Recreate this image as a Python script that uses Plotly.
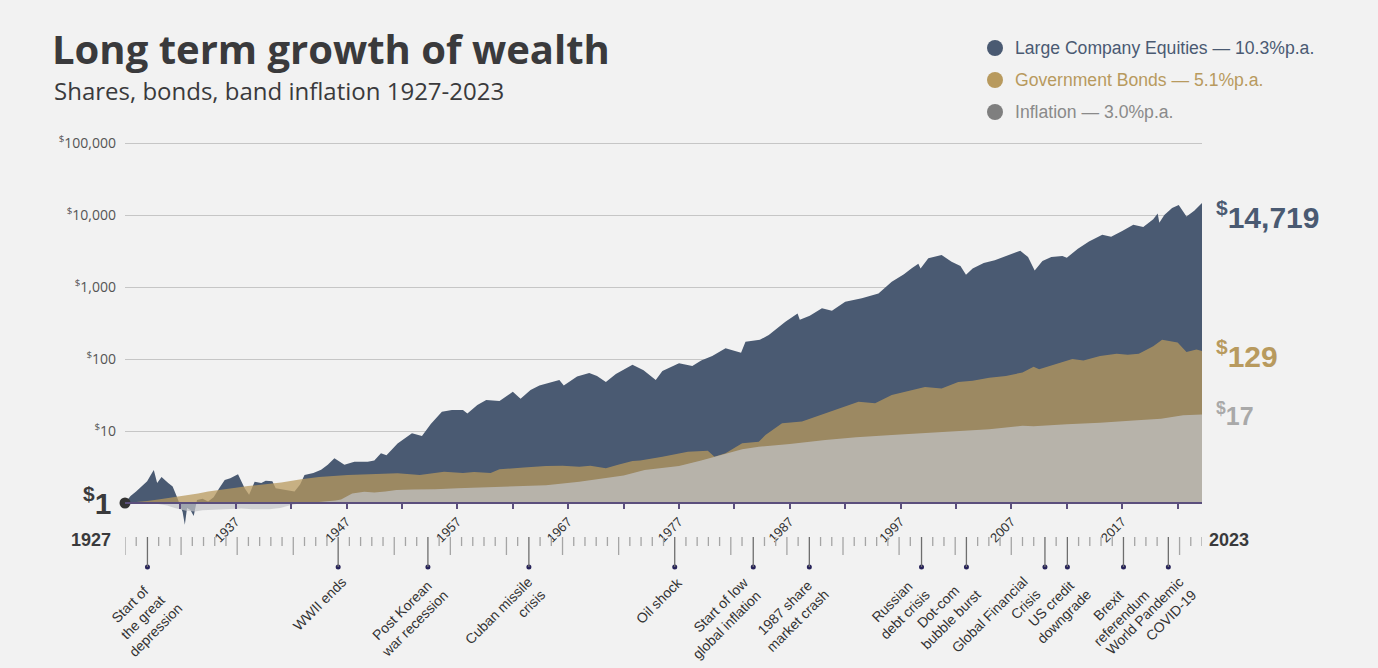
import math
import plotly.graph_objects as go

# ---------------- data ----------------
TITLE = "Long term growth of wealth"
SUBTITLE = "Shares, bonds, band inflation 1927-2023"

EQ_YEARS = [1927.0, 1927.5, 1928.0, 1928.5, 1929.0, 1929.3, 1929.6, 1929.9, 1930.3, 1930.9,
            1931.3, 1931.7, 1932.0, 1932.2, 1932.4, 1932.6, 1932.9, 1933.2, 1933.5, 1934.0,
            1934.5, 1935.0, 1935.5, 1936.0, 1936.5, 1937.2, 1937.8, 1938.2, 1938.7, 1939.3,
            1939.7, 1940.3, 1940.6, 1941.5, 1942.3, 1942.8, 1943.2, 1944.0, 1944.7, 1945.3,
            1945.9, 1946.8, 1947.7, 1948.9, 1949.5, 1950.1, 1950.6, 1951.6, 1952.9, 1953.8,
            1954.6, 1955.6, 1956.5, 1957.5, 1957.9, 1958.8, 1959.6, 1960.8, 1962.0, 1962.7,
            1963.6, 1964.4, 1965.5, 1966.2, 1966.6, 1967.8, 1968.9, 1969.6, 1970.4, 1971.3,
            1972.8, 1973.8, 1974.9, 1975.5, 1977.0, 1978.2, 1979.0, 1980.0, 1981.2, 1982.6,
            1983.0, 1984.3, 1985.1, 1986.6, 1987.7, 1987.9, 1988.8, 1989.9, 1990.8, 1992.0,
            1993.5, 1995.0, 1996.2, 1997.3, 1998.0, 1998.6, 1998.8, 1999.5, 2000.7, 2001.6,
            2002.4, 2002.9, 2003.5, 2004.5, 2005.5, 2006.5, 2007.8, 2008.5, 2009.1, 2009.8,
            2010.6, 2011.6, 2012.0, 2013.0, 2014.0, 2015.2, 2016.0, 2017.0, 2018.0, 2018.9,
            2019.8, 2020.2, 2020.35, 2020.8, 2021.5, 2022.1, 2022.8, 2023.5, 2024.2]
EQ_VALUES = [1.0, 1.25, 1.45, 1.7, 2.0, 2.4, 2.87, 1.9, 2.3, 1.9,
             1.7, 1.2, 0.9, 0.75, 0.5, 0.85, 0.8, 0.66, 1.1, 1.15,
             1.05, 1.2, 1.6, 2.09, 2.2, 2.5, 1.6, 1.3, 1.98, 1.9,
             2.04, 2.0, 1.6, 1.5, 1.45, 1.8, 2.45, 2.6, 2.9, 3.4,
             4.2, 3.4, 3.75, 3.75, 3.9, 4.9, 4.6, 6.7, 9.3, 8.5,
             12.5, 18.5, 19.5, 19.6, 17.5, 23, 27, 26, 35, 28,
             37, 43, 48, 51, 43, 57, 64, 58, 48, 62,
             83, 70, 51, 68, 87, 80, 95, 110, 141, 122,
             174, 185, 215, 330, 430, 350, 400, 505, 468, 625,
             700, 815, 1180, 1500, 1820, 2100, 1800, 2500, 2780, 2240,
             1950, 1480, 1800, 2150, 2350, 2700, 3200, 2600, 1700, 2300,
             2600, 2700, 2550, 3400, 4300, 5300, 5000, 6000, 7300, 6800,
             8700, 10500, 7800, 10000, 12500, 13800, 9500, 11500, 14719]

BOND_YEARS = [1927.0, 1928.0, 1929.0, 1930.0, 1931.0, 1931.7, 1932.5, 1933.6, 1934.5, 1935.7,
              1937.0, 1938.1, 1939.5, 1941.1, 1942.9, 1944.5, 1947.1, 1949.9, 1951.6, 1953.6,
              1955.8, 1957.5, 1958.5, 1960.0, 1960.8, 1963.0, 1965.0, 1966.5, 1968.0, 1969.0,
              1970.4, 1971.5, 1972.8, 1973.5, 1974.5, 1975.5, 1977.8, 1979.6, 1980.2, 1981.2,
              1982.7, 1984.2, 1984.8, 1986.3, 1988.1, 1990.2, 1993.2, 1994.7, 1996.2, 1999.2,
              2000.7, 2002.2, 2003.5, 2005.0, 2006.5, 2008.0, 2009.0, 2009.5, 2011.0, 2012.5,
              2013.5, 2015.0, 2016.5, 2017.5, 2018.5, 2019.8, 2020.6, 2021.5, 2022.0, 2022.8,
              2023.7, 2024.2]
BOND_VALUES = [1.0, 1.03, 1.07, 1.12, 1.18, 1.22, 1.28, 1.36, 1.45, 1.55,
               1.63, 1.72, 1.82, 1.92, 2.13, 2.3, 2.45, 2.53, 2.58, 2.45,
               2.72, 2.6, 2.7, 2.6, 2.94, 3.1, 3.26, 3.3, 3.2, 3.3,
               3.03, 3.4, 3.83, 3.9, 4.1, 4.4, 5.16, 5.3, 4.4, 4.9,
               6.75, 7.1, 8.8, 12.8, 13.5, 17.6, 25.5, 24.3, 31.6, 41,
               39, 48, 50, 55, 58, 65, 78, 72, 85, 100,
               95, 110, 118, 115, 118, 150, 185, 175, 170, 125,
               135, 129]

INFL_YEARS = [1927.0, 1928.0, 1929.0, 1930.0, 1930.8, 1931.5, 1932.5, 1933.3, 1934.0, 1935.0,
              1936.0, 1937.5, 1938.5, 1940.0, 1941.0, 1942.0, 1942.9, 1944.0, 1945.0, 1946.0,
              1946.5, 1947.5, 1948.6, 1949.5, 1950.5, 1951.5, 1953.0, 1955.0, 1957.0, 1960.0,
              1962.0, 1965.0, 1968.0, 1970.0, 1972.0, 1973.9, 1975.5, 1977.0, 1979.0, 1981.2,
              1982.7, 1984.2, 1987.0, 1990.2, 1993.0, 1996.2, 1999.0, 2002.2, 2005.0, 2008.0,
              2009.0, 2012.0, 2015.0, 2018.0, 2020.5, 2021.5, 2022.5, 2024.2]
INFL_VALUES = [1.0, 0.99, 0.98, 0.97, 0.92, 0.85, 0.78, 0.76, 0.79, 0.81,
               0.82, 0.84, 0.82, 0.82, 0.85, 0.94, 1.0, 1.02, 1.04, 1.08,
               1.12, 1.35, 1.43, 1.40, 1.45, 1.52, 1.54, 1.55, 1.6, 1.66,
               1.68, 1.76, 1.98, 2.2, 2.4, 2.87, 3.1, 3.26, 3.9, 4.9,
               5.6, 6.05, 6.6, 7.5, 8.2, 8.8, 9.3, 9.8, 10.6, 11.8,
               11.6, 12.4, 13.0, 14.0, 14.8, 15.6, 16.6, 17]

Y_TICK_VALUES = [10, 100, 1000, 10000, 100000]
X_TICK_YEARS = list(range(1932, 2023, 5))
X_LABEL_YEARS = list(range(1937, 2018, 10))
RULER_START, RULER_END = 1927, 2023
RULER_LONG_YEARS = [1927, 1932, 1937, 1942] + list(range(1951, 2024, 5))

EVENT_YEARS = [1929, 1946, 1954, 1963, 1976, 1983, 1988, 1998, 2002, 2009, 2011, 2016, 2020]
EVENT_LABELS = ["Start of<br>the great<br>depression", "WWII ends", "Post Korean<br>war recession",
                "Cuban missile<br>crisis", "Oil shock", "Start of low<br>global inflation",
                "1987 share<br>market crash", "Russian<br>debt crisis", "Dot-com<br>bubble burst",
                "Global Financial<br>Crisis", "US credit<br>downgrade", "Brexit<br>referendum",
                "World Pandemic<br>COVID-19"]

LEGEND_LABELS = ["Large Company Equities \u2014 10.3%p.a.",
                 "Government Bonds \u2014 5.1%p.a.",
                 "Inflation \u2014 3.0%p.a."]

# ---------------- styles ----------------
W, H = 1378, 668
ML, MR = 125, 176
PW = W - ML - MR
BG = "#f2f2f2"
SLATE = "#4a5a72"
GOLD_FILL = "rgba(184,154,94,0.75)"
GOLD_TEXT = "#b89a5e"
INFL_FILL = "rgba(194,196,200,0.71)"
AXIS_PURPLE = "#5b4f7d"
DARK = "#3a3a3c"

# event label placement (pixels): horizontal shift of label centre, alignment
EVENT_SHIFT = [-5, -19, -20, -24, -15, -33, -18, -23, -22, -49, -10, -8, -17]
EVENT_ALIGN = ["center", "center", "center", "right", "center", "right", "center",
               "center", "center", "right", "center", "center", "right"]


def py(p):
    return 1 - p / H


def px(p):
    return (p - ML) / PW


PX_PER_DECADE = 72.0
Y_ONE_PX = 503.0
PLOT_TOP, PLOT_BOTTOM = 130.0, 530.0

fig = go.Figure()


def add_area(xs, ys, color):
    fig.add_trace(go.Scatter(x=[xs[0], xs[-1]], y=[1, 1], mode="lines",
                             line=dict(width=0, color=color), hoverinfo="skip",
                             showlegend=False))
    fig.add_trace(go.Scatter(x=xs, y=ys, mode="lines", line=dict(width=0, color=color),
                             fill="tonexty", fillcolor=color, showlegend=False,
                             hoverinfo="skip"))


add_area(EQ_YEARS, EQ_VALUES, SLATE)
add_area(BOND_YEARS, BOND_VALUES, GOLD_FILL)
add_area(INFL_YEARS, INFL_VALUES, INFL_FILL)

# start dot at $1
fig.add_trace(go.Scatter(x=[EQ_YEARS[0]], y=[EQ_VALUES[0]], mode="markers",
                         marker=dict(size=11, color="#333333"), cliponaxis=False,
                         showlegend=False, hoverinfo="skip"))

# event dots on the ruler axis
fig.add_trace(go.Scatter(x=EVENT_YEARS, y=[0] * len(EVENT_YEARS), xaxis="x2", yaxis="y2",
                         mode="markers", marker=dict(size=5, color="#27235a"),
                         cliponaxis=False, showlegend=False, hoverinfo="skip"))

shapes = []
# ruler ticks
for yr in range(RULER_START, RULER_END + 1):
    if yr in EVENT_YEARS:
        bottom = 567
        col, wid = "#6e6e6e", 1.3
    elif yr in RULER_LONG_YEARS:
        bottom = 555
        col, wid = "#a5a5a5", 1.3
    else:
        bottom = 546
        col, wid = "#a5a5a5", 1.3
    shapes.append(dict(type="line", xref="x2", yref="paper", x0=yr, x1=yr,
                       y0=py(537), y1=py(bottom), line=dict(color=col, width=wid)))

annotations = []
# title / subtitle
annotations.append(dict(text="<b>" + TITLE + "</b>", xref="paper", yref="paper",
                        x=px(50), y=py(19), xanchor="left", yanchor="top", showarrow=False,
                        font=dict(family="Open Sans", size=40, color=DARK)))
annotations.append(dict(text=SUBTITLE, xref="paper", yref="paper",
                        x=px(52), y=py(72), xanchor="left", yanchor="top", showarrow=False,
                        font=dict(family="Open Sans", size=24, color=DARK)))

# legend
legend_dot_colors = [SLATE, GOLD_TEXT, "#7f7f7f"]
legend_text_colors = [SLATE, GOLD_TEXT, "#8a8a8a"]
for i, (lab, dc, tc) in enumerate(zip(LEGEND_LABELS, legend_dot_colors, legend_text_colors)):
    cy = 48 + 32 * i
    shapes.append(dict(type="circle", xref="paper", yref="paper",
                       x0=px(987), x1=px(1003), y0=py(cy - 8), y1=py(cy + 8),
                       fillcolor=dc, line=dict(width=0)))
    annotations.append(dict(text=lab, xref="paper", yref="paper", x=px(1013), y=py(cy),
                            xanchor="left", yanchor="middle", showarrow=False,
                            font=dict(family="Liberation Sans", size=17.6, color=tc)))

# end value labels
end_specs = [(EQ_VALUES[-1], SLATE, 30, 12), (BOND_VALUES[-1], GOLD_TEXT, 30, 3),
             (INFL_VALUES[-1], "#a9a9a9", 25, 0)]
for val, col, size, yshift in end_specs:
    annotations.append(dict(text="<b><sup>$</sup>{:,.0f}</b>".format(val), xref="paper", yref="y",
                            x=1, y=math.log10(val), xanchor="left", yanchor="middle",
                            xshift=12, yshift=-yshift, showarrow=False,
                            font=dict(family="Liberation Sans", size=size, color=col)))

# $1 label
annotations.append(dict(text="<b><sup>$</sup>1</b>", xref="paper", yref="y", x=0, y=0,
                        xanchor="right", yanchor="middle", xshift=-12, yshift=2,
                        showarrow=False,
                        font=dict(family="Liberation Sans", size=30, color=DARK)))

# ruler end labels
annotations.append(dict(text="<b>%d</b>" % RULER_START, xref="paper", yref="paper",
                        x=px(113), y=py(540), xanchor="right", yanchor="middle",
                        showarrow=False,
                        font=dict(family="Liberation Sans", size=18, color=DARK)))
annotations.append(dict(text="<b>%d</b>" % RULER_END, xref="paper", yref="paper",
                        x=px(1207), y=py(540), xanchor="left", yanchor="middle",
                        showarrow=False,
                        font=dict(family="Liberation Sans", size=18, color=DARK)))

# event labels
for yr, lab, sh, al in zip(EVENT_YEARS, EVENT_LABELS, EVENT_SHIFT, EVENT_ALIGN):
    annotations.append(dict(text=lab, xref="x2", yref="paper", x=yr, y=py(571),
                            xanchor="center", yanchor="top", xshift=sh, textangle=-45,
                            align=al, showarrow=False,
                            font=dict(family="Liberation Sans", size=14, color="#333333")))

fig.update_layout(
    width=W, height=H, template="none",
    paper_bgcolor=BG, plot_bgcolor=BG,
    margin=dict(l=ML, r=MR, t=0, b=0),
    showlegend=False,
    xaxis=dict(range=[1927, 2024.2], domain=[0, 1], anchor="free", position=py(Y_ONE_PX),
               showgrid=False, zeroline=False, showline=True, linecolor=AXIS_PURPLE,
               linewidth=2, ticks="outside", ticklen=5, tickwidth=1.5,
               tickcolor=AXIS_PURPLE, tickvals=X_TICK_YEARS,
               ticktext=[str(y) if y in X_LABEL_YEARS else "" for y in X_TICK_YEARS],
               tickangle=-45, tickfont=dict(family="Liberation Sans", size=13, color="#333333")),
    yaxis=dict(type="log", domain=[py(PLOT_BOTTOM), py(PLOT_TOP)],
               range=[(Y_ONE_PX - PLOT_BOTTOM) / PX_PER_DECADE,
                      (Y_ONE_PX - PLOT_TOP) / PX_PER_DECADE],
               tickvals=Y_TICK_VALUES,
               ticktext=["<sup>$</sup>{:,}".format(v) for v in Y_TICK_VALUES],
               showgrid=True, gridcolor="#c6c6c6", gridwidth=1, zeroline=False,
               showline=False, ticks="", ticklabelstandoff=8,
               tickfont=dict(family="Open Sans", size=14, color="#555555")),
    xaxis2=dict(range=[RULER_START, RULER_END], domain=[0, 1], anchor="y2", visible=False),
    yaxis2=dict(range=[-1, 1], domain=[py(577), py(557)], anchor="x2", visible=False),
    shapes=shapes,
    annotations=annotations,
)

fig.write_html("out.html", config={"displayModeBar": False},
               post_script="document.body.style.margin='0';")
